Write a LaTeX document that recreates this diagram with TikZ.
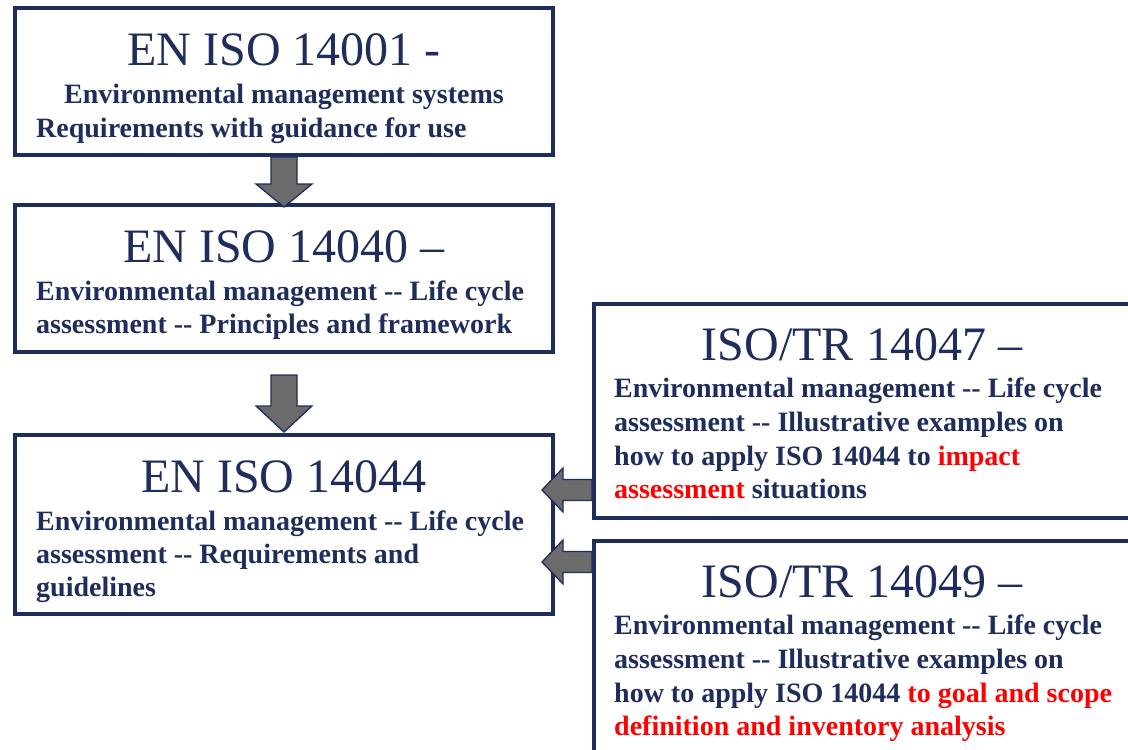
\documentclass[tikz,border=0pt]{standalone}
\usepackage{fontspec}
\setmainfont{Liberation Serif}
\usetikzlibrary{calc}
\definecolor{navy}{RGB}{31,45,92}
\definecolor{arrgray}{RGB}{107,107,107}
\definecolor{hired}{RGB}{255,0,0}
\begin{document}
\begin{tikzpicture}[x=1pt,y=-1pt,
  box/.style={draw=navy,line width=4pt,fill=white,inner sep=0pt,outer sep=0pt,anchor=north west},
  titletext/.style={anchor=base,inner sep=0pt,text=navy,font=\fontsize{48}{56}\selectfont},
  bodytext/.style={anchor=base west,inner sep=0pt,text=navy,font=\fontsize{28}{33}\selectfont\bfseries},
  blockarrow/.style={draw=navy,line width=1.3pt,fill=arrgray,line join=miter}]
\clip (0,0) rectangle (1128,750);
\fill[white] (0,0) rectangle (1128,750);
% boxes
\node[box,minimum width=538pt,minimum height=147pt] (b1) at (15,8) {};
\node[box,minimum width=538pt,minimum height=147pt] (b2) at (15,205) {};
\node[box,minimum width=538pt,minimum height=179pt] (b3) at (15,435) {};
\node[box,minimum width=600pt,minimum height=214pt] (b4) at (594,304) {};
\node[box,minimum width=600pt,minimum height=260pt] (b5) at (594,541) {};
% helper coordinates
\coordinate (a2top) at ($(b2.south)+(0,23)$);
\coordinate (l1) at (594,490);
\coordinate (l2) at (594,562);
% down arrow 1
\draw[blockarrow] ($(b1.south)+(-13,2)$) -- ($(b1.south)+(13,2)$) -- ($(b2.north)+(13,-21)$)
  -- ($(b2.north)+(28,-21)$) -- ($(b2.north)+(0,2)$) -- ($(b2.north)+(-28,-21)$)
  -- ($(b2.north)+(-13,-21)$) -- cycle;
% down arrow 2
\draw[blockarrow] ($(a2top)+(-13,0)$) -- ($(a2top)+(13,0)$) -- ($(b3.north)+(13,-29)$)
  -- ($(b3.north)+(28,-29)$) -- ($(b3.north)+(0,-3)$) -- ($(b3.north)+(-28,-29)$)
  -- ($(b3.north)+(-13,-29)$) -- cycle;
% left arrows
\draw[blockarrow] ($(l1)+(-2,-10.5)$) -- ($(b3.east |- l1)+(10,-10.5)$) -- ($(b3.east |- l1)+(10,-22)$)
  -- ($(b3.east |- l1)+(-11,0)$) -- ($(b3.east |- l1)+(10,22)$) -- ($(b3.east |- l1)+(10,10.5)$)
  -- ($(l1)+(-2,10.5)$) -- cycle;
\draw[blockarrow] ($(l2)+(-2,-10.5)$) -- ($(b3.east |- l2)+(10,-10.5)$) -- ($(b3.east |- l2)+(10,-22)$)
  -- ($(b3.east |- l2)+(-11,0)$) -- ($(b3.east |- l2)+(10,22)$) -- ($(b3.east |- l2)+(10,10.5)$)
  -- ($(l2)+(-2,10.5)$) -- cycle;
% box 1 text
\node[titletext] (t1) at (284,65) {EN ISO 14001 -};
\node[bodytext,anchor=base] (t1a) at (284,103) {Environmental management systems};
\node[bodytext] (t1b) at (36,137) {Requirements with guidance for use};
% box 2 text
\node[titletext] (t2) at (284,262) {EN ISO 14040 –};
\node[bodytext] (t2a) at (36,300) {Environmental management -{}- Life cycle};
\node[bodytext] (t2b) at (36,333) {assessment -{}- Principles and framework};
% box 3 text
\node[titletext] (t3) at (284,492) {EN ISO 14044};
\node[bodytext] (t3a) at (36,530) {Environmental management -{}- Life cycle};
\node[bodytext] (t3b) at (36,563) {assessment -{}- Requirements and};
\node[bodytext] (t3c) at (36,596) {guidelines};
% box 4 text
\node[titletext] (t4) at (862,360) {ISO/TR 14047 –};
\node[bodytext] (t4a) at (614,397) {Environmental management -{}- Life cycle};
\node[bodytext] (t4b) at (614,431) {assessment -{}- Illustrative examples on};
\node[bodytext] (t4c) at (614,465) {how to apply ISO 14044 to \textcolor{hired}{impact}};
\node[bodytext] (t4d) at (614,498) {\textcolor{hired}{assessment} situations};
% box 5 text
\node[titletext] (t5) at (862,597) {ISO/TR 14049 –};
\node[bodytext] (t5a) at (614,634) {Environmental management -{}- Life cycle};
\node[bodytext] (t5b) at (614,668) {assessment -{}- Illustrative examples on};
\node[bodytext] (t5c) at (614,702) {how to apply ISO 14044 \textcolor{hired}{to goal and scope}};
\node[bodytext] (t5d) at (614,735) {\textcolor{hired}{definition and inventory analysis}};
\end{tikzpicture}
\end{document}
